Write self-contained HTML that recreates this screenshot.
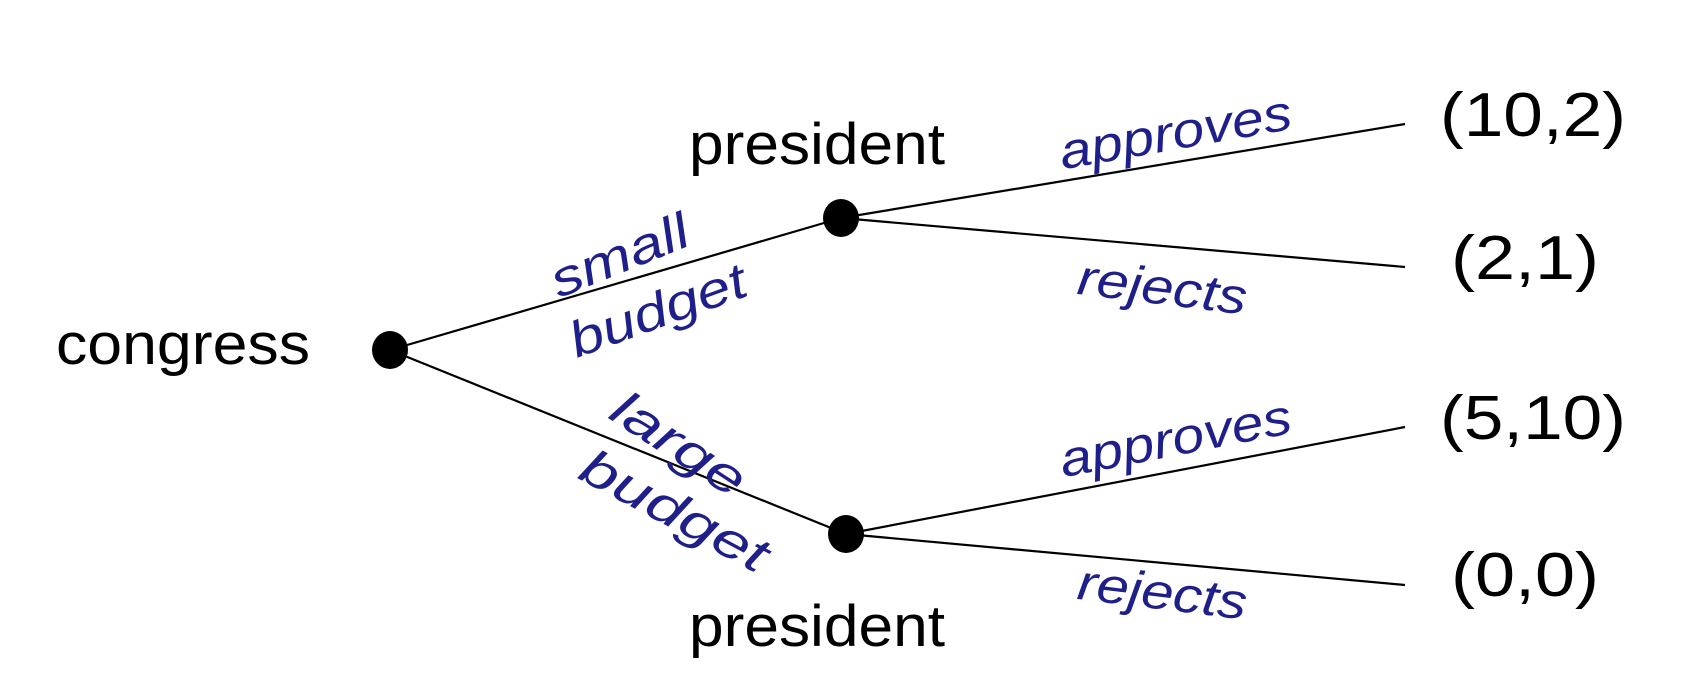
<!DOCTYPE html>
<html><head><style>
html,body{margin:0;padding:0;background:#fff;}
svg{display:block;}
.k{font-family:"Liberation Sans",sans-serif;font-size:58px;fill:#000;}
.p{font-family:"Liberation Sans",sans-serif;font-size:62px;fill:#000;}
.b{font-family:"Liberation Sans",sans-serif;font-size:50px;font-style:italic;fill:#1f1f8a;}
</style></head><body>
<svg width="1688" height="698" viewBox="0 0 1688 698">
<g stroke="#000" stroke-width="2.2">
<line x1="390" y1="350" x2="841" y2="218"/>
<line x1="390" y1="350" x2="846" y2="534"/>
<line x1="841" y1="218" x2="1405" y2="124"/>
<line x1="841" y1="218" x2="1405" y2="267"/>
<line x1="846" y1="534" x2="1405" y2="427"/>
<line x1="846" y1="534" x2="1405" y2="585"/>
</g>
<ellipse cx="390" cy="350" rx="18" ry="19"/>
<ellipse cx="841" cy="218" rx="18" ry="19"/>
<ellipse cx="846" cy="534" rx="18" ry="19"/>
<text class="k" x="56" y="364" textLength="254" lengthAdjust="spacingAndGlyphs">congress</text>
<text class="k" x="689" y="164" textLength="256" lengthAdjust="spacingAndGlyphs">president</text>
<text class="k" x="689" y="646" textLength="256" lengthAdjust="spacingAndGlyphs">president</text>
<text class="p" x="1440" y="136" textLength="186" lengthAdjust="spacingAndGlyphs">(10,2)</text>
<text class="p" x="1451" y="279" textLength="148" lengthAdjust="spacingAndGlyphs">(2,1)</text>
<text class="p" x="1440" y="439" textLength="186" lengthAdjust="spacingAndGlyphs">(5,10)</text>
<text class="p" x="1451" y="596" textLength="148" lengthAdjust="spacingAndGlyphs">(0,0)</text>
<g class="b" text-anchor="middle" dominant-baseline="middle">
<text transform="translate(1176,136) rotate(-10)" textLength="235" lengthAdjust="spacingAndGlyphs">approves</text>
<text transform="translate(1162,291) rotate(7)" textLength="170" lengthAdjust="spacingAndGlyphs">rejects</text>
<text transform="translate(1176,442) rotate(-11)" textLength="235" lengthAdjust="spacingAndGlyphs">approves</text>
<text transform="translate(1162,596) rotate(7)" textLength="170" lengthAdjust="spacingAndGlyphs">rejects</text>
<text transform="translate(621,259) rotate(-22)" textLength="145" lengthAdjust="spacingAndGlyphs">small</text>
<text transform="translate(659,314) rotate(-20)" textLength="185" lengthAdjust="spacingAndGlyphs">budget</text>
<text transform="translate(677,447) rotate(33)" textLength="150" lengthAdjust="spacingAndGlyphs">large</text>
<text transform="translate(673,514) rotate(28)" textLength="205" lengthAdjust="spacingAndGlyphs">budget</text>
</g>
</svg>
</body></html>
